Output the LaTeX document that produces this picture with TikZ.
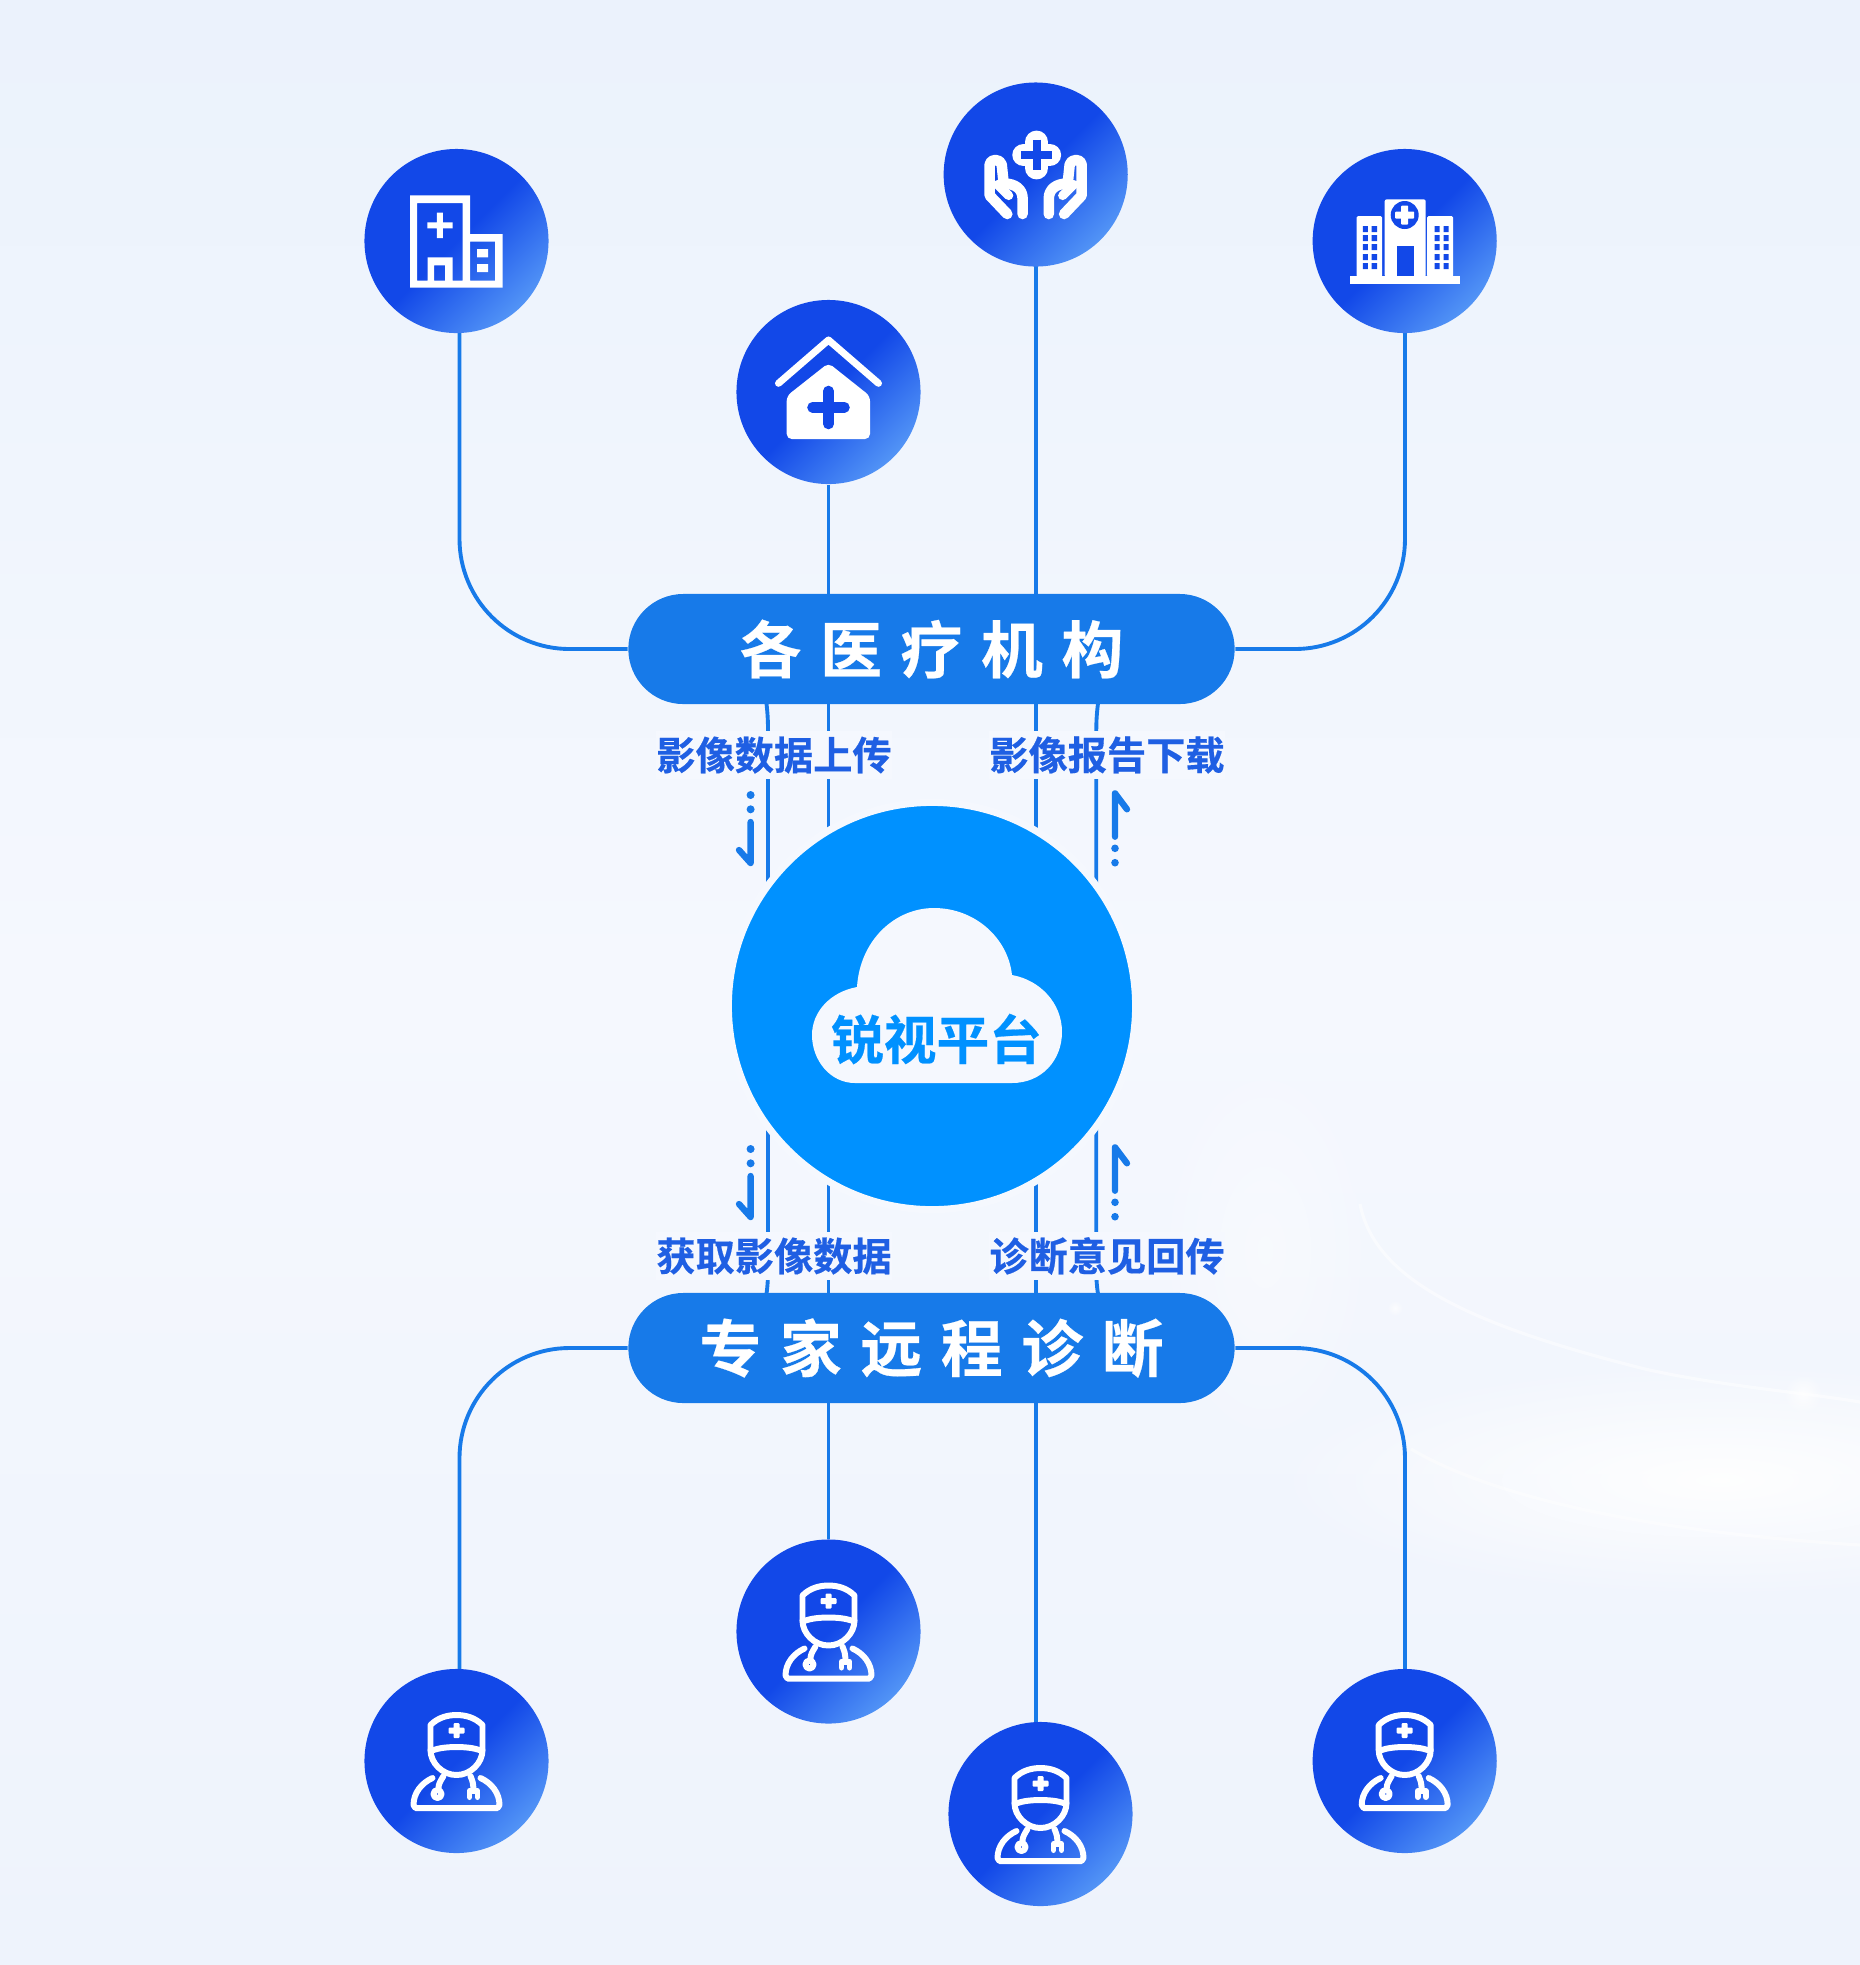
\documentclass[tikz,border=0pt]{standalone}
\usepackage{fontspec}
\usetikzlibrary{backgrounds,fadings}
\newfontfamily\cjk[FakeBold=0.4]{Noto Sans CJK SC Bold}
\definecolor{bgtop}{HTML}{EBF2FC}
\definecolor{bgmid}{HTML}{F5F8FE}
\definecolor{bgend}{HTML}{EEF3FC}
\definecolor{linkblue}{HTML}{177AE9}
\definecolor{platblue}{HTML}{0091FF}
\definecolor{labelblue}{HTML}{1F5FE3}
\definecolor{discdark}{HTML}{1248E8}
\definecolor{disclight}{HTML}{5294F6}
\tikzfading[name=softglow,inner color=transparent!0,outer color=transparent!100]
\tikzstyle{disc}=[circle,minimum size=1.84cm,inner sep=0pt,top color=discdark,bottom color=disclight,middle color=discdark,shading angle=45]
\tikzstyle{bar}=[rounded corners=0.55cm,fill=linkblue,text=white,minimum width=6.06cm,minimum height=1.1cm,inner sep=0pt,font=\cjk\fontsize{17.6}{20}\selectfont]
\tikzstyle{tag}=[fill=bgmid,text=labelblue,inner xsep=0pt,inner ysep=1.5pt,minimum height=0.47cm,font=\cjk\fontsize{11.15}{13}\selectfont]
\tikzstyle{link}=[draw=linkblue,line width=1.1pt]
\tikzstyle{flow}=[draw=linkblue,line width=1.8pt,line cap=round,line join=round]
\tikzstyle{dot}=[fill=linkblue]
\tikzstyle{icon}=[draw=white,line width=1.7pt,line cap=round,line join=round]
\tikzstyle{glow}=[fill=white,path fading=softglow]
\newcommand{\doctoricon}{
\draw[icon] (-26,-11) -- (-26,-36) .. controls (-18,-44) and (-8,-46) .. (0,-46) .. controls (8,-46) and (18,-44) .. (26,-36) -- (26,-11);
\draw[icon] (-23,-11) .. controls (-12,-15) and (12,-15) .. (23,-11);
\draw[icon] (-26,-11) .. controls (-26,2) and (-14,14) .. (0,14) .. controls (14,14) and (26,2) .. (26,-11);
\draw[icon] (-24,17) .. controls (-35,22) and (-43,32) .. (-43,44) -- (-41,47) -- (41,47) -- (43,44) .. controls (43,32) and (35,22) .. (24,17);
\draw[icon] (-13,15) .. controls (-16,20) and (-18,23) .. (-18,27);
\draw[icon] (-19,33) circle (4);
\draw[icon] (14,15) .. controls (16,20) and (17,23) .. (17,27);
\draw[icon] (13,36) -- (13,30) -- (21,30) -- (21,36);
\fill[white,rounded corners=0.01cm] (-3,-38) rectangle (3,-23) (-8,-33.5) rectangle (8,-27.5);
}
\begin{document}
\begin{tikzpicture}[x=0.01cm,y=-0.01cm]
\useasboundingbox (0,0) rectangle (1860,1965);
\node[disc] (hospa) at (456.5,241) {};
\node[disc] (hospb) at (828.5,392) {};
\node[disc] (hospc) at (1035.7,174.5) {};
\node[disc] (hospd) at (1404.7,241) {};
\node[disc] (docta) at (456.5,1761) {};
\node[disc] (doctb) at (828.5,1631.5) {};
\node[disc] (doctc) at (1040.5,1814) {};
\node[disc] (doctd) at (1404.7,1761) {};
\node[bar] (instbar) at (931.5,649) {各\kern.3em 医\kern.3em 疗\kern.3em 机\kern.3em 构};
\node[bar] (exptbar) at (931.5,1348) {专\kern.3em 家\kern.3em 远\kern.3em 程\kern.3em 诊\kern.3em 断};
\node[tag] (upload) at (774,755) {影像数据上传};
\node[tag] (report) at (1107,755) {影像报告下载};
\node[tag] (fetch) at (774,1256) {获取影像数据};
\node[tag] (reply) at (1107,1256) {诊断意见回传};
\node[circle,fill=platblue,draw=bgmid,line width=2pt,minimum size=4.07cm,inner sep=0pt] (plat) at (932,1006) {};
\fill[bgmid] (857,987) .. controls (860,940) and (895,908) .. (934,908) .. controls (975,908) and (1008,938) .. (1012,975) .. controls (1040,980) and (1062,1003) .. (1062,1032) .. controls (1062,1060) and (1042,1083) .. (1012,1083) -- (855,1083) .. controls (830,1083) and (812,1060) .. (812,1035) .. controls (812,1012) and (830,992) .. (857,987) -- cycle;
\node[text=platblue,font=\cjk\fontsize{15}{17}\selectfont] (platname) at (936.5,1039) {锐视平台};
\begin{scope}[on background layer]
\shade[top color=bgtop,bottom color=bgend,middle color=bgmid] (0,0) rectangle (1860,1965);
\fill[glow,opacity=.95] (1720,1480) ellipse (460 and 120);
\fill[glow,opacity=.4] (1265,1250) ellipse (120 and 220);
\fill[glow,opacity=.8] (1803,1394) circle (20);
\fill[glow,opacity=.7] (1395,1308) circle (8);
\draw[white,opacity=.5,line width=0.9pt] (1360,1204) .. controls (1375,1280) and (1470,1325) .. (1645,1369) .. controls (1720,1386) and (1800,1392) .. (1860,1402);
\draw[white,opacity=.45,line width=0.9pt] (1411,1449) .. controls (1480,1490) and (1620,1530) .. (1860,1545);
\coordinate (hospa-out) at (459.5,300);
\coordinate (hospd-out) at (1405,300);
\coordinate (hospc-out) at (1035.6,230);
\coordinate (docta-out) at (459.5,1700);
\coordinate (doctd-out) at (1405,1700);
\coordinate (doctc-out) at (1035.6,1760);
\draw[link,rounded corners=1.1cm] (hospa-out) |- (instbar.west);
\draw[link,rounded corners=1.1cm] (hospd-out) |- (instbar.east);
\draw[link,rounded corners=1.1cm] (docta-out) |- (exptbar.west);
\draw[link,rounded corners=1.1cm] (doctd-out) |- (exptbar.east);
\draw[link] (hospb) -- (hospb |- plat);
\draw[link] (hospc-out) -- (hospc-out |- plat);
\draw[link] (doctb) -- (doctb |- plat);
\draw[link] (doctc-out) -- (doctc-out |- plat);
\draw[link] (765,690) .. controls (767,708) and (768,715) .. (768,730) -- (768,1000);
\draw[link] (1099.6,690) .. controls (1097.5,708) and (1096.3,715) .. (1096.3,730) -- (1096.3,1000);
\draw[link] (765,1305) .. controls (767,1290) and (768,1285) .. (768,1270) -- (768,1000);
\draw[link] (1099.6,1305) .. controls (1097.5,1290) and (1096.3,1285) .. (1096.3,1270) -- (1096.3,1000);
\end{scope}
\foreach \dy in {0,354} {
\draw[flow] (750.6,822+\dy) -- (750.6,863+\dy) -- (739,850+\dy);
\fill[dot] (750.6,795+\dy) circle (4) (750.6,809.3+\dy) circle (4);
\draw[flow] (1115,836.7+\dy) -- (1115,793.3+\dy) -- (1127,809.3+\dy);
\fill[dot] (1115,848.3+\dy) circle (3.8) (1115,862.7+\dy) circle (3.8);
}
\begin{scope}[shift={(hospa)}]
\fill[white,even odd rule] (-46.5,-45.7) -- (13.5,-45.7) -- (13.5,-7) -- (46,-7) -- (46,46.7) -- (-46.5,46.7) -- cycle
(-39.5,-38) rectangle (6,39.7) (13.5,0.7) rectangle (38.5,39.7)
(-29,16.3) rectangle (-4,39.7) (-22.5,24.3) rectangle (-11.5,39.7)
(20.5,8) rectangle (31.6,16.3) (20.5,23) rectangle (31.6,31)
(-19.6,-28.4) rectangle (-13.6,-3) (-29.2,-18.7) -- (-19.6,-18.7) -- (-19.6,-12.7) -- (-29.2,-12.7) -- cycle (-13.6,-18.7) -- (-4,-18.7) -- (-4,-12.7) -- (-13.6,-12.7) -- cycle;
\end{scope}
\begin{scope}[shift={(hospb)}]
\draw[icon,line width=2pt] (-50,-8.7) -- (0,-52) -- (50,-8.7);
\fill[white,rounded corners=0.05cm] (0,-29) -- (-41.8,4) -- (-41.8,47) -- (41.5,47) -- (41.5,4) -- cycle;
\draw[discdark,line width=3pt,line cap=round] (-16,15.3) -- (16,15.3) (0,-1) -- (0,32);
\end{scope}
\begin{scope}[shift={(hospc)}]
\draw[white,line width=6.5pt,line cap=round] (-12,-19.5) -- (14,-19.5) (1,-32.5) -- (1,-6.5);
\draw[discdark,line width=2.2pt] (-14.3,-19.5) -- (16.3,-19.5) (1,-34.8) -- (1,-4.2);
\foreach \s in {1,-1} {
\begin{scope}[xscale=\s]
\draw[icon,line width=3pt] (-28.4,39.5) -- (-46,21) -- (-46,-10) .. controls (-46,-16) and (-35,-16) .. (-34,-10) -- (-32,9) .. controls (-20,9) and (-13.1,15) .. (-13.1,24) -- (-13.1,39.5);
\draw[icon,line width=2.6pt] (-38,10) -- (-27,21);
\end{scope}
}
\end{scope}
\begin{scope}[shift={(hospd)}]
\fill[white] (-54.5,34.7) rectangle (55.2,43);
\fill[white,rounded corners=0.015cm,even odd rule] (-48,36) -- (-48,-25) -- (-22.5,-25) -- (-22.5,36) -- cycle (22.5,36) -- (22.5,-25) -- (48.5,-25) -- (48.5,36) -- cycle;
\fill[discdark] \foreach \wy in {-15,-6,3,13,22} {(-41.8,\wy) rectangle (-36.8,\wy+6) (-33,\wy) rectangle (-27.7,\wy+6) (30,\wy) rectangle (35,\wy+6) (39,\wy) rectangle (44,\wy+6)};
\fill[white,rounded corners=0.02cm] (-20,36) -- (-20,-41.7) -- (21,-41.7) -- (21,36) -- cycle;
\fill[discdark] (-7.5,4.7) rectangle (9,34.7);
\fill[discdark] (0,-26) circle (14);
\fill[white,rounded corners=0.008cm] (-3.5,-35.5) rectangle (3.5,-16.5) (-9.5,-29.5) rectangle (9.5,-22.5);
\end{scope}
\foreach \doct in {docta,doctb,doctc,doctd} {
\begin{scope}[shift={(\doct)}]
\doctoricon
\end{scope}
}
\end{tikzpicture}
\end{document}
